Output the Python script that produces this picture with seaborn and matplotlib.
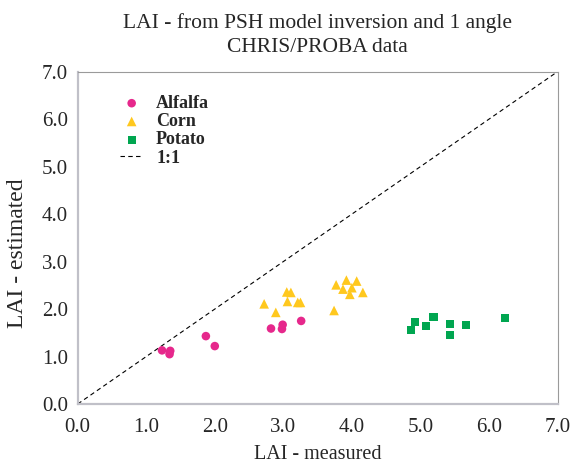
import numpy as np
import pandas as pd
import matplotlib
matplotlib.use("Agg")
import matplotlib.pyplot as plt
import seaborn as sns

# LAI measured vs. estimated, per crop
alfalfa_measured = [1.23, 1.35, 1.34, 1.87, 2.00, 2.82, 2.99, 2.98, 3.26]
alfalfa_estimated = [1.13, 1.12, 1.05, 1.43, 1.22, 1.59, 1.67, 1.58, 1.75]

corn_measured = [2.72, 2.89, 3.05, 3.11, 3.06, 3.21, 3.25, 3.74, 3.77, 3.87,
                 3.92, 4.00, 4.07, 3.97, 4.16]
corn_estimated = [2.11, 1.93, 2.36, 2.35, 2.16, 2.14, 2.14, 1.97, 2.51, 2.42,
                  2.61, 2.45, 2.59, 2.31, 2.35]

potato_measured = [4.86, 4.92, 5.08, 5.19, 5.43, 5.43, 5.67, 6.24]
potato_estimated = [1.55, 1.72, 1.64, 1.84, 1.69, 1.45, 1.67, 1.81]

crops = ["Alfalfa", "Corn", "Potato"]
tick_values = [0.0, 1.0, 2.0, 3.0, 4.0, 5.0, 6.0, 7.0]
tick_labels = ["0.0", "1.0", "2.0", "3.0", "4.0", "5.0", "6.0", "7.0"]

df = pd.DataFrame({
    "measured": alfalfa_measured + corn_measured + potato_measured,
    "estimated": alfalfa_estimated + corn_estimated + potato_estimated,
    "crop": (["Alfalfa"] * len(alfalfa_measured) + ["Corn"] * len(corn_measured)
             + ["Potato"] * len(potato_measured)),
})

sns.set_style("white")
plt.rcParams["font.family"] = ["Liberation Serif", "DejaVu Serif"]

fig = plt.figure(figsize=(5.73, 4.63), dpi=100)
ax = fig.add_axes([0.1356, 0.1274, 0.8374, 0.7178])

palette = {"Alfalfa": "#e6288c", "Corn": "#ffc81e", "Potato": "#00a650"}
markers = {"Alfalfa": "o", "Corn": "^", "Potato": "s"}
sizes = {"Alfalfa": 38, "Corn": 48, "Potato": 34}

for crop in crops:
    sub = df[df["crop"] == crop]
    sns.scatterplot(data=sub, x="measured", y="estimated", ax=ax,
                    color=palette[crop], marker=markers[crop], s=sizes[crop],
                    edgecolor="none", label=crop, zorder=3)

ax.plot([0, 7], [0, 7], color="black", linestyle=(0, (4, 3)), linewidth=0.8,
        label="1:1", zorder=2)

ax.set_xlim(0, 7)
ax.set_ylim(0, 7)
ax.set_xticks(tick_values)
ax.set_xticklabels(tick_labels)
ax.set_yticks(tick_values)
ax.set_yticklabels(tick_labels)
ax.tick_params(axis="both", labelsize=15, direction="out", length=3,
               width=1, color="#b8b8c0", pad=4)
ax.tick_params(axis="x", pad=7)

for side in ["left", "bottom"]:
    ax.spines[side].set_color("#c0c0c8")
    ax.spines[side].set_linewidth(1.6)
for side in ["top", "right"]:
    ax.spines[side].set_color("#9a9a9a")
    ax.spines[side].set_linewidth(0.8)

ax.set_xlabel("LAI - measured", fontsize=14.5, labelpad=6)
ax.set_ylabel("LAI - estimated", fontsize=17)
ax.yaxis.set_label_coords(-0.103, 0.455)
ax.set_title("LAI - from PSH model inversion and 1 angle\nCHRIS/PROBA data",
             fontsize=15.5, pad=14, linespacing=1.35)

leg = ax.legend(loc="upper left", bbox_to_anchor=(0.088, 0.93), frameon=False,
                prop={"weight": "bold", "size": 13}, borderpad=0,
                handlelength=1.3, handletextpad=0.7, labelspacing=0.07,
                borderaxespad=0)

fig.savefig("out.png", dpi=100)
